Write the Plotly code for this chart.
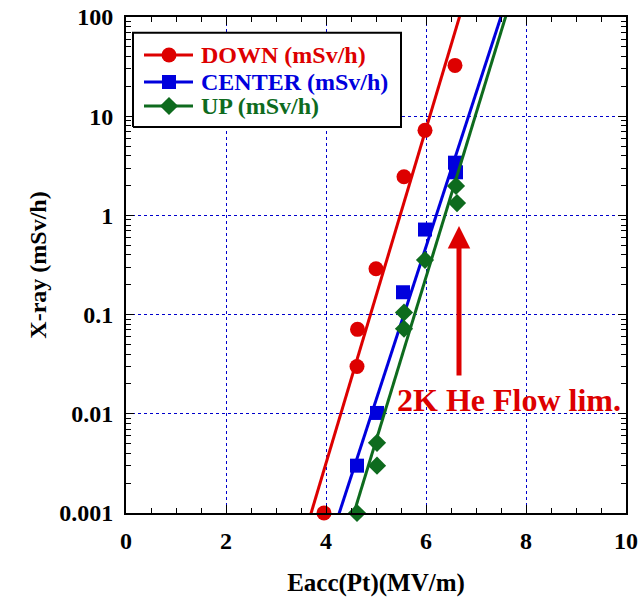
import numpy as np
import plotly.graph_objects as go

# ---- data ----
down_x = [3.96, 4.62, 4.63, 5.0, 5.56, 5.98, 6.58]
down_y = [0.001, 0.030, 0.071, 0.29, 2.45, 7.2, 32.5]

center_x = [4.62, 5.02, 5.54, 5.98, 6.58, 6.60]
center_y = [0.003, 0.0102, 0.168, 0.72, 3.4, 2.72]

up_x = [4.62, 5.02, 5.02, 5.56, 5.56, 5.98, 6.60, 6.62]
up_y = [0.001, 0.003, 0.0051, 0.072, 0.105, 0.355, 1.98, 1.33]

series_names = ["DOWN (mSv/h)", "CENTER (mSv/h)", "UP (mSv/h)"]
series_colors = ["#DD0000", "#0000DD", "#0E6B1E"]
series_symbols = ["circle", "square", "diamond"]
series_sizes = [15, 14, 14]

y_tickvals = [0.001, 0.01, 0.1, 1, 10, 100]
y_ticktext = ["0.001", "0.01", "0.1", "1", "10", "100"]
x_tickvals = [0, 2, 4, 6, 8, 10]

annot_text = "2K He Flow lim."
arrow_x = 6.66
arrow_tail_y = 0.0235
arrow_head_y = 0.78

FONT = "Liberation Serif, Times New Roman, serif"

# legend layout (fractions of the plot area)
LEG_BOX = (0.014, 0.55, 0.778, 0.968)
LEG_ROWS = [0.9234, 0.869, 0.8206]
LEG_LINE = (0.036, 0.134)
LEG_MARK = 0.086
LEG_TEXT = 0.146

fig = go.Figure()
datasets = [(down_x, down_y), (center_x, center_y), (up_x, up_y)]
xfit = np.linspace(3.0, 8.5, 200)
for (xs, ys), col, sym, sz in zip(datasets, series_colors, series_symbols, series_sizes):
    # exponential least-squares fit (log10 y vs x)
    b, a = np.polyfit(np.array(xs), np.log10(np.array(ys)), 1)
    fig.add_trace(go.Scatter(x=xfit, y=10 ** (a + b * xfit), mode="lines",
                             line=dict(color=col, width=3), showlegend=False,
                             hoverinfo="skip"))
    fig.add_trace(go.Scatter(x=xs, y=ys, mode="markers", cliponaxis=False,
                             marker=dict(color=col, symbol=sym, size=sz,
                                         line=dict(width=0)),
                             showlegend=False))

# ---- legend drawn on an overlay axis pair (0..1 in both directions) ----
bx0, bx1, by0, by1 = LEG_BOX
fig.add_trace(go.Scatter(x=[bx0, bx1, bx1, bx0, bx0], y=[by0, by0, by1, by1, by0],
                         xaxis="x2", yaxis="y2", mode="lines", fill="toself",
                         fillcolor="white", line=dict(color="black", width=2),
                         showlegend=False, hoverinfo="skip"))
for ry, name, col, sym, sz in zip(LEG_ROWS, series_names, series_colors,
                                  series_symbols, series_sizes):
    fig.add_trace(go.Scatter(x=list(LEG_LINE), y=[ry, ry], xaxis="x2", yaxis="y2",
                             mode="lines", line=dict(color=col, width=3),
                             showlegend=False, hoverinfo="skip"))
    fig.add_trace(go.Scatter(x=[LEG_MARK], y=[ry], xaxis="x2", yaxis="y2",
                             mode="markers",
                             marker=dict(color=col, symbol=sym, size=sz,
                                         line=dict(width=0)),
                             showlegend=False, hoverinfo="skip"))
    fig.add_annotation(x=LEG_TEXT, y=ry, xref="x2", yref="y2", text=name,
                       showarrow=False, xanchor="left", yanchor="middle",
                       font=dict(family=FONT, size=24, color=col, weight="bold"))

axis_common = dict(
    showline=True, linecolor="black", linewidth=2, mirror="allticks",
    ticks="inside", ticklen=8, tickwidth=1, tickcolor="black",
    showgrid=True, gridcolor="#0000CC", griddash="dot", gridwidth=1,
    zeroline=False,
    tickfont=dict(family=FONT, size=24, color="black", weight="bold"),
)

fig.update_layout(xaxis=dict(
    range=[0, 10], tickvals=x_tickvals, ticklabelstandoff=5,
    minor=dict(ticks="inside", ticklen=5, dtick=0.5, tickcolor="black", showgrid=False),
    title=dict(text="Eacc(Pt)(MV/m)", standoff=24,
               font=dict(family=FONT, size=25, color="black", weight="bold")),
    **axis_common))
fig.update_layout(yaxis=dict(
    type="log", range=[-3, 2], tickvals=y_tickvals, ticktext=y_ticktext,
    ticklabelstandoff=6,
    minor=dict(ticks="inside", ticklen=5, dtick="D1", tickcolor="black", showgrid=False),
    title=dict(text="X-ray (mSv/h)", standoff=6,
               font=dict(family=FONT, size=24, color="black", weight="bold")),
    **axis_common))
fig.update_layout(
    xaxis2=dict(overlaying="x", anchor="y2", range=[0, 1], visible=False, fixedrange=True),
    yaxis2=dict(overlaying="y", anchor="x2", range=[0, 1], visible=False, fixedrange=True),
)

fig.add_annotation(x=arrow_x, y=np.log10(arrow_head_y), xref="x", yref="y",
                   ax=arrow_x, ay=np.log10(arrow_tail_y), axref="x", ayref="y",
                   text="", showarrow=True, arrowhead=2, arrowsize=0.9,
                   arrowwidth=5, arrowcolor="#DD0000", standoff=0)
fig.add_annotation(x=7.66, y=np.log10(0.0138), xref="x", yref="y",
                   text=annot_text, showarrow=False,
                   font=dict(family=FONT, size=32, color="#DD0000", weight="bold"))

fig.update_layout(
    width=640, height=597,
    margin=dict(l=126, r=14, t=17, b=84, autoexpand=False),
    paper_bgcolor="white", plot_bgcolor="white",
    showlegend=False,
)

fig.write_html("out.html", config={"displayModeBar": False},
               post_script="document.body.style.margin='0';")
